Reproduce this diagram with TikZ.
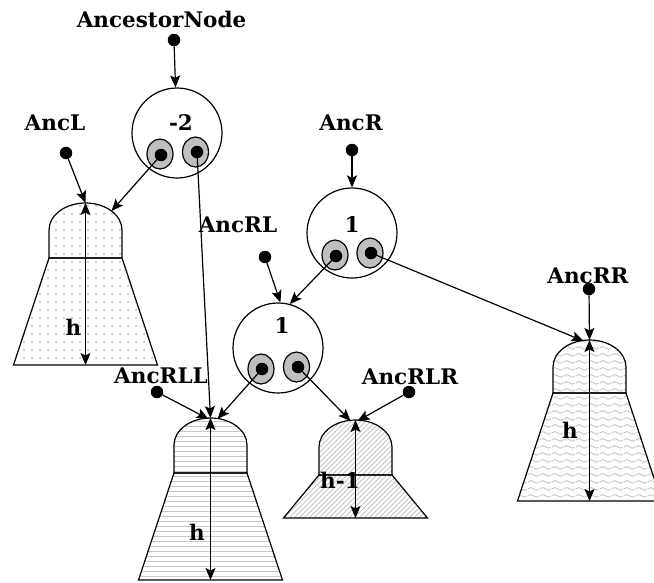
\documentclass[tikz,border=0pt]{standalone}
\usepackage{fontspec}
\setmainfont{DejaVu Serif}
\usetikzlibrary{arrows.meta,patterns,shapes.geometric}

% fill patterns of the subtrees
\pgfdeclarepatternformonly{avldots}{\pgfqpoint{-1pt}{-1pt}}{\pgfqpoint{1pt}{1pt}}{\pgfqpoint{8pt}{8pt}}{%
  \pgfpathcircle{\pgfqpoint{0pt}{0pt}}{1pt}\pgfusepath{fill}}
\pgfdeclarepatternformonly{avlhlines}{\pgfpointorigin}{\pgfqpoint{100pt}{1.5pt}}{\pgfqpoint{100pt}{5pt}}{%
  \pgfsetlinewidth{1.3pt}\pgfpathmoveto{\pgfqpoint{0pt}{0.75pt}}\pgfpathlineto{\pgfqpoint{100pt}{0.75pt}}\pgfusepath{stroke}}
\pgfdeclarepatternformonly{avlnelines}{\pgfqpoint{-1pt}{-1pt}}{\pgfqpoint{6pt}{6pt}}{\pgfqpoint{5pt}{5pt}}{%
  \pgfsetlinewidth{1pt}\pgfpathmoveto{\pgfqpoint{0pt}{0pt}}\pgfpathlineto{\pgfqpoint{5.1pt}{5.1pt}}\pgfusepath{stroke}}
\pgfdeclarepatternformonly{avlwaves}{\pgfqpoint{0pt}{0pt}}{\pgfqpoint{12pt}{7pt}}{\pgfqpoint{12pt}{7pt}}{%
  \pgfsetlinewidth{1pt}
  \pgfpathmoveto{\pgfqpoint{0pt}{3.5pt}}
  \pgfpathcurveto{\pgfqpoint{2pt}{5.5pt}}{\pgfqpoint{4pt}{5.5pt}}{\pgfqpoint{6pt}{3.5pt}}
  \pgfpathcurveto{\pgfqpoint{8pt}{1.5pt}}{\pgfqpoint{10pt}{1.5pt}}{\pgfqpoint{12pt}{3.5pt}}
  \pgfusepath{stroke}}

\tikzset{
  avlnode/.style={circle, draw, line width=1.2pt, minimum size=90pt, inner sep=0pt},
  slot/.style={ellipse, draw, fill=black!25, line width=1.2pt, minimum width=26pt, minimum height=30pt, inner sep=0pt},
  ptr/.style={circle, fill=black, minimum size=12.5pt, inner sep=0pt},
  lbl/.style={font=\bfseries\fontsize{21.5}{24}\selectfont, inner sep=0pt},
  subtree/.style={draw, line width=1.2pt, pattern color=black!22},
  link/.style={-{Stealth[length=12pt,width=10pt,inset=2.5pt]}, line width=1.2pt},
  height/.style={{Stealth[length=12pt,width=10pt,inset=2.5pt]}-{Stealth[length=12pt,width=10pt,inset=2.5pt]}, line width=1.2pt}
}

\begin{document}
\begin{tikzpicture}[x=1pt, y=-1pt]
  \clip (0,0) rectangle (654,582);

  % Subtree L
  \begin{scope}[shift={(85.5,203)}]
    \draw[subtree, pattern=avldots, pattern color=black!30] (-36.5,55) -- (-36.5,27) arc[start angle=180, end angle=360, x radius=36.5, y radius=27] -- (36.5,55) -- cycle;
    \draw[subtree, pattern=avldots, pattern color=black!30] (-36.5,55) -- (-72,162) -- (72,162) -- (36.5,55) -- cycle;
    \coordinate (treeL) at (0,0);
    \draw[height] (0,0) -- (0,162);
    \node[lbl] (hL) at (-12,124) {h};
  \end{scope}

  % Subtree RLL
  \begin{scope}[shift={(210.5,418)}]
    \draw[subtree, pattern=avlhlines] (-36.5,55) -- (-36.5,27) arc[start angle=180, end angle=360, x radius=36.5, y radius=27] -- (36.5,55) -- cycle;
    \draw[subtree, pattern=avlhlines] (-36.5,55) -- (-72,162) -- (72,162) -- (36.5,55) -- cycle;
    \coordinate (treeRLL) at (0,0);
    \draw[height] (0,0) -- (0,162);
    \node[lbl] (hRLL) at (-13.5,114) {h};
  \end{scope}

  % Subtree RLR
  \begin{scope}[shift={(355.5,420)}]
    \draw[subtree, pattern=avlnelines] (-36.5,55) -- (-36.5,27) arc[start angle=180, end angle=360, x radius=36.5, y radius=27] -- (36.5,55) -- cycle;
    \draw[subtree, pattern=avlnelines] (-36.5,55) -- (-72,98) -- (72,98) -- (36.5,55) -- cycle;
    \coordinate (treeRLR) at (0,0);
    \draw[height] (0,0) -- (0,98);
    \node[lbl] (hRLR) at (-15.5,60) {h-1};
  \end{scope}

  % Subtree RR
  \begin{scope}[shift={(589.5,340)}]
    \draw[subtree, pattern=avlwaves] (-36.5,53) -- (-36.5,27) arc[start angle=180, end angle=360, x radius=36.5, y radius=27] -- (36.5,53) -- cycle;
    \draw[subtree, pattern=avlwaves] (-36.5,53) -- (-72,161) -- (72,161) -- (36.5,53) -- cycle;
    \coordinate (treeRR) at (0,0);
    \draw[height] (0,0) -- (0,161);
    \node[lbl] (hRR) at (-19.5,90) {h};
  \end{scope}

  % Ancestor node
  \node[lbl] (ancLbl) at (161.5,19) {AncestorNode};
  \node[ptr] (ancDot) at (174,40) {};
  \node[avlnode] (nodeA) at (177,133) {};
  \node[lbl] (bfA) at (181,123) {-2};
  \node[slot] (nodeA-l) at (160,154) {};
  \node[slot] (nodeA-r) at (195.5,152) {};
  \node[ptr] (nodeA-ld) at (161,155) {};
  \node[ptr] (nodeA-rd) at (197,152) {};

  % AncL
  \node[lbl] (ancLLbl) at (55,122.5) {AncL};
  \node[ptr] (ancLDot) at (66,153) {};

  % Node R
  \node[lbl] (ancRLbl) at (351,123) {AncR};
  \node[ptr] (ancRDot) at (352,150) {};
  \node[avlnode] (nodeR) at (352,233) {};
  \node[lbl] (bfR) at (352,225) {1};
  \node[slot] (nodeR-l) at (335,255) {};
  \node[slot] (nodeR-r) at (370,253) {};
  \node[ptr] (nodeR-ld) at (336,256) {};
  \node[ptr] (nodeR-rd) at (371,253) {};

  % Node RL
  \node[lbl] (ancRLLbl) at (238,225) {AncRL};
  \node[ptr] (ancRLDot) at (265,257) {};
  \node[avlnode] (nodeRL) at (278,348) {};
  \node[lbl] (bfRL) at (282,326) {1};
  \node[slot] (nodeRL-l) at (261,369) {};
  \node[slot] (nodeRL-r) at (296.5,367) {};
  \node[ptr] (nodeRL-ld) at (262,369) {};
  \node[ptr] (nodeRL-rd) at (298,367) {};

  % AncRLL, AncRLR, AncRR
  \node[lbl] (ancRLLLbl) at (161,376) {AncRLL};
  \node[ptr] (ancRLLDot) at (157,392) {};
  \node[lbl] (ancRLRLbl) at (410,377) {AncRLR};
  \node[ptr] (ancRLRDot) at (409,392) {};
  \node[lbl] (ancRRLbl) at (588,276) {AncRR};
  \node[ptr] (ancRRDot) at (589,289) {};

  % Pointers
  \draw[link] (ancDot) -- (nodeA);
  \draw[link] (ancLDot) -- (treeL);
  \draw[link] (nodeA-ld.center) -- ([shift={(26,8)}]treeL);
  \draw[link] (nodeA-rd.center) -- (treeRLL);
  \draw[link] (ancRDot) -- (nodeR);
  \draw[link] (nodeR-ld.center) -- (nodeRL.75);
  \draw[link] (ancRLDot) -- (nodeRL.87);
  \draw[link] (nodeR-rd.center) -- ([shift={(-6,1)}]treeRR);
  \draw[link] (ancRRDot) -- (treeRR);
  \draw[link] (nodeRL-ld.center) -- ([shift={(7,1)}]treeRLL);
  \draw[link] (ancRLLDot) -- ([shift={(-2,1)}]treeRLL);
  \draw[link] (nodeRL-rd.center) -- ([shift={(-5,1)}]treeRLR);
  \draw[link] (ancRLRDot) -- ([shift={(2,1)}]treeRLR);
\end{tikzpicture}
\end{document}
